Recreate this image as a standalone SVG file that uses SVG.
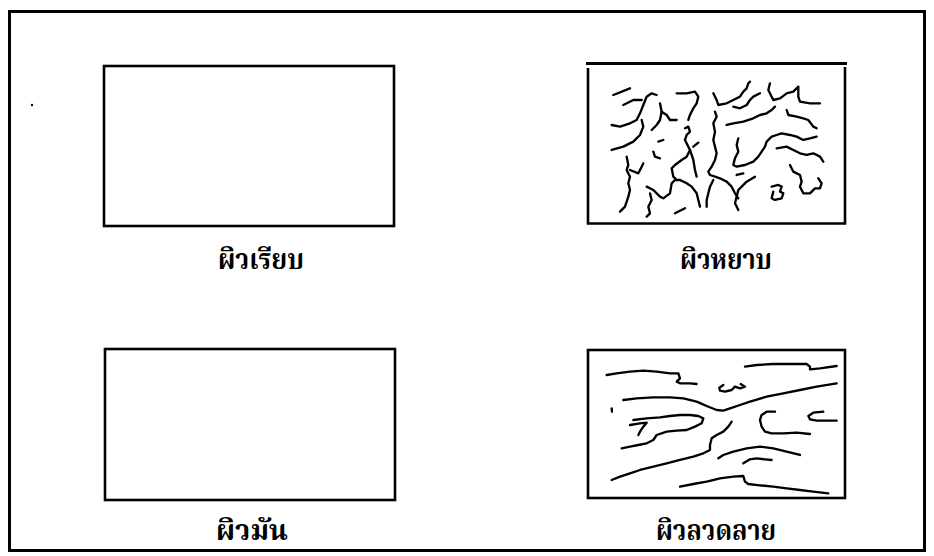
<svg xmlns="http://www.w3.org/2000/svg" width="934" height="556" viewBox="0 0 934 556">
<style>
.frame{fill:none;stroke:#000;stroke-width:3}
.box{fill:none;stroke:#000;stroke-width:2.6}
.sq{fill:none;stroke:#000;stroke-width:7;stroke-linecap:round;stroke-linejoin:round}
.lbl{font-family:"Noto Serif Thai","Noto Sans Thai","Noto Sans","DejaVu Sans",sans-serif;font-weight:bold;font-size:29px;fill:#000;text-anchor:middle}
</style>
<rect width="934" height="556" fill="#fff"/>
<rect class="frame" x="9.5" y="11.5" width="915" height="539"/>
<circle cx="32" cy="105" r="1.2" fill="#000"/>

<g id="smooth">
<rect class="box" x="104" y="66" width="290" height="160"/>
<text class="lbl" x="261" y="269" textLength="86" lengthAdjust="spacingAndGlyphs">ผิวเรียบ</text>
</g>

<g id="rough">
<line x1="586" y1="63.5" x2="847" y2="63.5" stroke="#000" stroke-width="3.2"/>
<polyline class="box" points="588,68 588,223.5 845,223.5 845,67"/>
<g class="sq" transform="translate(580,50) scale(0.3333)">
<polyline points="100,135 150,115"/>
<polyline points="95,225 120,230 150,220 170,210 180,190 190,165 200,140 215,130 230,135"/>
<polyline points="130,165 160,150 185,150"/>
<polyline points="95,300 130,290 160,275 180,255 190,230 185,210"/>
<polyline points="240,160 245,185 240,210 230,225 215,240"/>
<polyline points="245,185 260,195 270,210 290,210"/>
<polyline points="290,130 320,130 345,125 355,140 350,160 340,175 330,195 325,210"/>
<polyline points="235,275 250,270"/>
<polyline points="220,305 225,320 240,325"/>
<polyline points="315,235 325,230 330,245 320,255 315,270 325,290 330,300 320,320 305,330 285,345 275,355 280,380 290,390"/>
<polyline points="330,300 340,330 345,360 350,380"/>
<polyline points="340,290 355,278"/>
<polyline points="140,320 145,345 140,360 150,380 145,400 150,420 145,440 135,470 120,485"/>
<polyline points="150,360 175,370 185,350 190,340"/>
<polyline points="200,410 220,420 240,440 250,445 270,430 275,400 285,390 300,390 320,400 335,410 350,430 355,450 360,470"/>
<polyline points="210,430 215,450 205,470 210,490 200,500"/>
<polyline points="285,490 315,475"/>
<polyline points="400,130 410,150 415,165 440,160 460,150 480,140 490,125 500,115 505,100 510,95"/>
<polyline points="460,170 480,175 500,165 510,150 520,140 540,130"/>
<polyline points="570,100 565,120 575,140 580,150 600,145 620,130 640,125 655,110 655,140 660,155 690,160 720,160"/>
<polyline points="405,185 410,200 400,220 405,245 400,270 405,290 410,310 405,330 395,350 385,365 390,375 405,380 420,385 440,395 455,410 465,430 475,445"/>
<polyline points="440,225 460,220 490,215 520,205 540,195 560,190 575,180 585,170"/>
<polyline points="620,180 625,195 650,200 670,205 685,210 700,230 710,235"/>
<polyline points="475,265 470,285 475,305 465,325 460,345 470,350 495,345 520,335 535,320 545,305 555,290 560,275 575,260 590,255 605,250 630,255 650,260 670,270 690,265 710,260"/>
<polyline points="590,295 620,290 640,300 660,310 680,315 700,310 720,320 730,335"/>
<polyline points="630,345 640,365 660,375 665,395 660,410 670,430 690,430 705,415 720,415 725,400 715,385"/>
<polyline points="470,375 490,370"/>
<polyline points="400,390 390,410 385,430 380,450 380,470"/>
<polyline points="525,380 500,395 485,410 475,420 470,440 465,460 475,480"/>
<polyline points="575,410 595,405 605,410 600,425 610,430 605,445 585,450 575,445 580,425"/>
</g>
<text class="lbl" x="726" y="269" textLength="92" lengthAdjust="spacingAndGlyphs">ผิวหยาบ</text>
</g>

<g id="glossy">
<rect class="box" x="105" y="349" width="290" height="151"/>
<text class="lbl" x="252" y="540" textLength="72" lengthAdjust="spacingAndGlyphs">ผิวมัน</text>
</g>

<g id="patterned">
<rect class="box" x="588" y="350" width="257" height="148"/>
<g class="sq" transform="translate(580,340) scale(0.3333)">
<polyline points="80,105 110,100 150,95 190,92 230,95 270,100 295,100 300,115 290,125 300,130 330,130 350,132"/>
<polyline points="495,80 530,75 580,72 620,72 680,72 690,80 690,88 720,85 770,78"/>
<polyline points="430,135 418,143 420,152 435,155 455,150 465,140 480,145 495,140 482,132"/>
<polyline points="130,180 170,175 220,172 270,172 310,175 350,185 380,198 410,210 430,212 450,205 480,195 510,185 560,170 610,160 660,150 710,140 770,130"/>
<polyline points="95,205 96,215"/>
<polyline points="160,240 200,235 240,232 270,228 300,225 330,225 355,228 370,235 365,250 345,260 320,270 290,272 260,275 230,285 220,300 200,310 175,315 150,320 125,325"/>
<polyline points="150,255 180,250 200,248 190,260 180,275 175,285"/>
<polyline points="455,245 445,260 430,275 410,285 395,295 390,315 390,330 370,340 340,350 300,360 260,370 220,380 180,390 150,400 120,410 95,420"/>
<polyline points="585,215 560,215 545,225 540,240 545,260 555,275 575,280 610,280 650,278 690,282"/>
<polyline points="730,215 700,218 685,228 690,238 710,242 740,242 770,242"/>
<polyline points="415,355 430,345 460,335 500,325 540,320 580,325 620,335 660,345"/>
<polyline points="490,370 510,358 530,355 555,358 575,360"/>
<polyline points="300,440 340,432 380,425 420,415 460,410 490,408 495,425 505,432 540,436 580,440 620,445 660,450 700,455 745,460"/>
</g>
<text class="lbl" x="716" y="540" textLength="120" lengthAdjust="spacingAndGlyphs">ผิวลวดลาย</text>
</g>
</svg>
